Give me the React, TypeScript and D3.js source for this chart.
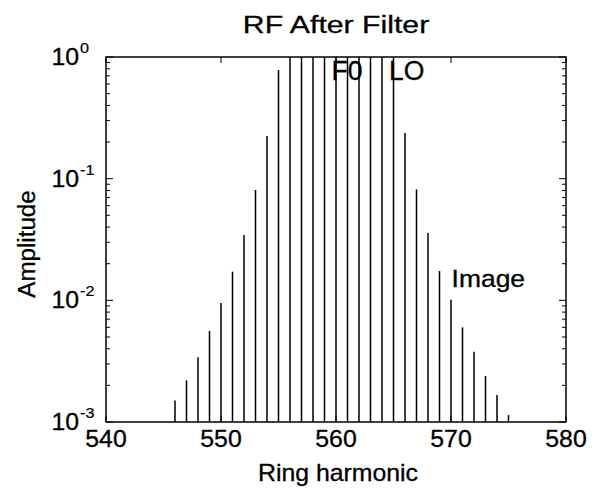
import React from "react";
import * as d3 from "d3";

const harmonics = [546, 547, 548, 549, 550, 551, 552, 553, 554, 555, 556, 557, 558, 559, 560, 561, 562, 563, 564, 565, 566, 567, 568, 569, 570, 571, 572, 573, 574, 575];
const amplitudes = [0.0015, 0.0022, 0.0034, 0.0056, 0.0095, 0.0172, 0.0344, 0.0807, 0.224, 0.782, 1, 1, 1, 1, 1, 1, 1, 1, 1, 1, 0.237, 0.0818, 0.0357, 0.0174, 0.0101, 0.006, 0.00378, 0.00239, 0.00167, 0.00114];
const xTicks = [540, 550, 560, 570, 580];
const yTickExps = [0, -1, -2, -3];
const annotations = [
  { label: "F0", x: 559.6, y: 1, size: 28, sx: 0.95, dy: 23 },
  { label: "LO", x: 564.6, y: 1, size: 28, sx: 0.95, dy: 23 },
  { label: "Image", x: 570.05, y: 0.0147, size: 23, sx: 1.15, dy: 7 },
];

const W = 600, H = 496;
const left = 106, right = 566, top = 57, bottom = 422;
const FONT = "'Liberation Sans', Arial, Helvetica, sans-serif";

export default function App() {
  const x = d3.scaleLinear().domain([540, 580]).range([left, right]);
  const y = d3.scaleLog().domain([1e-3, 1]).range([bottom, top]);
  const minor: number[] = [];
  for (let e = -3; e < 0; e++) for (let m = 2; m <= 9; m++) minor.push(m * Math.pow(10, e));

  return (
    <svg width={W} height={H} style={{ position: "absolute", left: 0, top: 0, background: "#fff" }} fontFamily={FONT}>
      <rect x={0} y={0} width={W} height={H} fill="#fff" />
      {harmonics.map((h, i) => (
        <line key={h} x1={x(h)} x2={x(h)} y1={y(1e-3)} y2={y(Math.min(1, amplitudes[i]))} stroke="#000" strokeWidth={1.5} />
      ))}
      <rect x={left} y={top} width={right - left} height={bottom - top} fill="none" stroke="#000" strokeWidth={1.5} />
      {xTicks.map((t) => (
        <g key={t}>
          <line x1={x(t)} x2={x(t)} y1={bottom} y2={bottom - 6} stroke="#000" strokeWidth={1} />
          <line x1={x(t)} x2={x(t)} y1={top} y2={top + 6} stroke="#000" strokeWidth={1} />
          <text x={0} y={0} transform={`translate(${x(t)},${447}) scale(1.08,1)`} textAnchor="middle" fontSize={23} fill="#000" stroke="#000" strokeWidth={0.3}>{t}</text>
        </g>
      ))}
      {yTickExps.map((e) => {
        const yy = y(Math.pow(10, e));
        return (
          <g key={e}>
            <line x1={left} x2={left + 7} y1={yy} y2={yy} stroke="#000" strokeWidth={1} />
            <line x1={right} x2={right - 7} y1={yy} y2={yy} stroke="#000" strokeWidth={1} />
            <text x={0} y={0} transform={`translate(79,${yy + 8}) scale(1.08,1)`} textAnchor="end" fontSize={23} fill="#000" stroke="#000" strokeWidth={0.3}>10</text>
            <text x={0} y={0} transform={`translate(80,${yy - 4}) scale(1.08,1)`} textAnchor="start" fontSize={15} fill="#000" stroke="#000" strokeWidth={0.2}>{e === 0 ? "0" : "-" + Math.abs(e)}</text>
          </g>
        );
      })}
      {minor.map((v, i) => (
        <g key={i}>
          <line x1={left} x2={left + 4} y1={y(v)} y2={y(v)} stroke="#000" strokeWidth={1} />
          <line x1={right} x2={right - 4} y1={y(v)} y2={y(v)} stroke="#000" strokeWidth={1} />
        </g>
      ))}
      {annotations.map((a) => (
        <text key={a.label} x={0} y={0} transform={`translate(${x(a.x)},${y(a.y) + a.dy}) scale(${a.sx},1)`} fontSize={a.size} fill="#000" stroke="#000" strokeWidth={0.3}>{a.label}</text>
      ))}
      <text x={0} y={0} transform={`translate(336,33) scale(1.26,1)`} textAnchor="middle" fontSize={24} fill="#000" stroke="#000" strokeWidth={0.3}>RF After Filter</text>
      <text x={0} y={0} transform={`translate(338,481) scale(1.08,1)`} textAnchor="middle" fontSize={23} fill="#000" stroke="#000" strokeWidth={0.3}>Ring harmonic</text>
      <text x={0} y={0} transform={`translate(35,244) rotate(-90) scale(1.05,1)`} textAnchor="middle" fontSize={23} fill="#000" stroke="#000" strokeWidth={0.3}>Amplitude</text>
    </svg>
  );
}
